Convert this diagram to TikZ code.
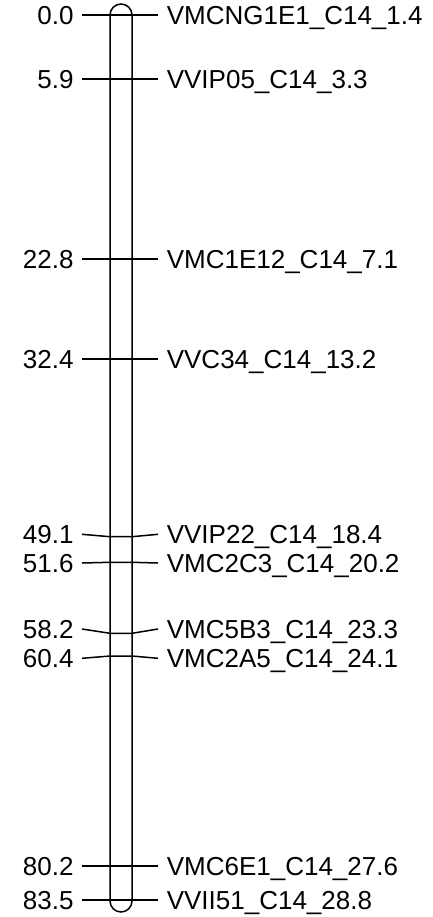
\documentclass[tikz,border=0pt]{standalone}
\usepackage{fontspec}
\setmainfont{Liberation Sans}
\usetikzlibrary{positioning}

\begin{document}
\begin{tikzpicture}[x=0.5pt,y=-0.5pt,
  cmlab/.style={anchor=base east,inner sep=0pt,xshift=-4pt,yshift=-4.65pt,
    font=\fontsize{13}{15}\selectfont},
  mklab/.style={anchor=base west,inner sep=0pt,xshift=4.2pt,yshift=-4.65pt,
    font=\fontsize{13}{15}\selectfont},
  tk/.style={line width=0.75pt}]
  \useasboundingbox (0,0) rectangle (433,917);
  % linkage group
  \draw[tk,rounded corners=5.5pt] (110,4) rectangle (132,912);
  % markers: index / position / name / label y / bar y
  \foreach \i/\cmv/\mk/\yl/\yb in {
    1/0.0/VMCNG1E1\_C14\_1.4/15/15,
    2/5.9/VVIP05\_C14\_3.3/79/79,
    3/22.8/VMC1E12\_C14\_7.1/259/259,
    4/32.4/VVC34\_C14\_13.2/359/359,
    5/49.1/VVIP22\_C14\_18.4/534.3/536.7,
    6/51.6/VMC2C3\_C14\_20.2/563/562.3,
    7/58.2/VMC5B3\_C14\_23.3/629/633.3,
    8/60.4/VMC2A5\_C14\_24.1/658.3/656,
    9/80.2/VMC6E1\_C14\_27.6/866/866,
    10/83.5/VVII51\_C14\_28.8/900/900}{
    \coordinate (l\i) at (82,\yl);
    \coordinate (r\i) at (158,\yl);
    \node[cmlab] (p\i) at (l\i) {\cmv};
    \node[mklab] (m\i) at (r\i) {\mk};
    \draw[tk] (l\i) -- (110,\yb) -- (132,\yb) -- (r\i);
  }
\end{tikzpicture}
\end{document}
